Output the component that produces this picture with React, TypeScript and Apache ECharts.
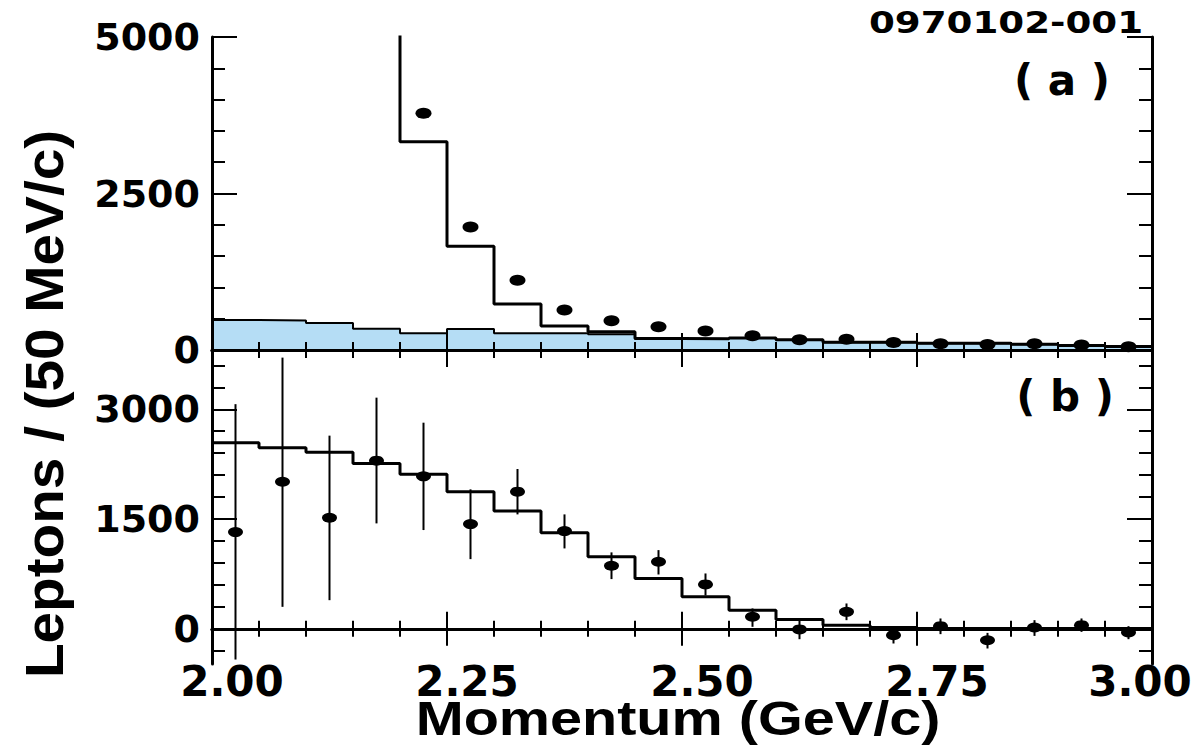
import React, { useEffect, useRef } from "react";
import * as echarts from "echarts";

// ---- data ----
const binEdges = [2.0, 2.05, 2.1, 2.15, 2.2, 2.25, 2.3, 2.35, 2.4, 2.45, 2.5, 2.55, 2.6, 2.65, 2.7, 2.75, 2.8, 2.85, 2.9, 2.95];
const binCenters = [2.025, 2.075, 2.125, 2.175, 2.225, 2.275, 2.325, 2.375, 2.425, 2.475, 2.525, 2.575, 2.625, 2.675, 2.725, 2.775, 2.825, 2.875, 2.925, 2.975];
const histEnd = 3.0;

// (a) continuum (blue) and total expectation (black line)
const continuumA = [479, 470, 431, 340, 266, 335, 266, 266, 250, 176, 176, 190, 160, 122, 122, 106, 106, 90, 69, 53];
const totalA = [9000, 8500, 7500, 6000, 3328, 1656, 735, 385, 290, 185, 180, 192, 162, 125, 124, 108, 108, 92, 71, 55];
// (a) data points (from 2.225 GeV/c)
const dataAX = [2.225, 2.275, 2.325, 2.375, 2.425, 2.475, 2.525, 2.575, 2.625, 2.675, 2.725, 2.775, 2.825, 2.875, 2.925, 2.975];
const dataAY = [3781, 1965, 1113, 639, 466, 373, 305, 226, 165, 173, 120, 100, 88, 100, 78, 53];

// (b) expectation histogram and subtracted data with errors
const histB = [2544, 2475, 2412, 2261, 2111, 1874, 1609, 1313, 985, 689, 438, 256, 128, 51, 19, 6, 5, 5, 5, 5];
const dataBY = [1322, 2010, 1518, 2298, 2084, 1432, 1874, 1336, 862, 917, 607, 165, -8, 233, -86, 37, -155, 19, 51, -49];
const dataBLo = [-419, 301, 392, 1441, 1350, 953, 1564, 1099, 680, 743, 456, 28, -141, 119, -200, -72, -268, -96, -41, -141];
const dataBHi = [3070, 3706, 2640, 3159, 2817, 1906, 2184, 1564, 1045, 1076, 757, 279, 119, 347, 28, 142, -55, 119, 142, 37];

const yTicksA = [0, 2500, 5000];
const yMajorB = [0, 1500, 3000];
const yMinorB = [-300, 0, 300, 600, 900, 1200, 1500, 1800, 2100, 2400, 2700, 3000, 3300, 3600];

const stepData = (vals: number[]) => [
  ...binEdges.map((e, i) => [e, vals[i]]),
  [histEnd, vals[vals.length - 1]],
];

const LABEL_FONT = "DejaVu Sans";
const TITLE_FONT = "Liberation Sans";

export default function App() {
  const ref = useRef<HTMLDivElement>(null);

  useEffect(() => {
    document.body.style.margin = "0";
    if (!ref.current) return;
    const chart = echarts.init(ref.current, undefined, { renderer: "svg" });

    const gridL = 212;
    const gridW = 940;

    const xBase = (gridIndex: number, position: "top" | "bottom", labels: boolean) => ({
      type: "value",
      gridIndex,
      position,
      min: 2,
      max: 3,
      interval: 0.25,
      z: 10,
      axisLine: { show: true, lineStyle: { color: "#000", width: 3 } },
      axisTick: { show: true, inside: true, length: 17, lineStyle: { color: "#000", width: 2 } },
      minorTick: { show: true, splitNumber: 5, length: 8, lineStyle: { color: "#000", width: 2 } },
      splitLine: { show: false },
      minorSplitLine: { show: false },
      axisLabel: labels
        ? {
            show: true,
            margin: 2,
            formatter: (v: number) => (v >= 3 ? `{e|${v.toFixed(2)}}` : `{n|${v.toFixed(2)}}`),
            rich: {
              n: { fontFamily: LABEL_FONT, fontWeight: "bold", fontSize: 42, lineHeight: 30, color: "#000", padding: [0, 0, 0, 40] },
              e: { fontFamily: LABEL_FONT, fontWeight: "bold", fontSize: 42, lineHeight: 30, color: "#000", padding: [0, 24, 0, 0] },
            },
          }
        : { show: false },
    });

    const yLabel = {
      show: true,
      margin: 12,
      fontFamily: LABEL_FONT,
      fontWeight: "bold",
      fontSize: 38,
      color: "#000",
      formatter: (v: number) => String(v),
    };

    const option: any = {
      animation: false,
      backgroundColor: "#fff",
      grid: [
        { left: gridL, top: 37, width: gridW, height: 313, outerBoundsMode: "none", containLabel: false },
        { left: gridL, top: 350, width: gridW, height: 314, outerBoundsMode: "none", containLabel: false },
      ],
      xAxis: [
        xBase(0, "bottom", false),
        xBase(0, "top", false),
        xBase(1, "bottom", true),
        xBase(1, "top", false),
      ],
      yAxis: [
        {
          type: "value", gridIndex: 0, position: "left", min: 0, max: 5000, interval: 2500, z: 10,
          axisLine: { show: true, lineStyle: { color: "#000", width: 3 } },
          axisTick: { show: true, inside: true, length: 25, lineStyle: { color: "#000", width: 2 } },
          minorTick: { show: true, splitNumber: 5, length: 13, lineStyle: { color: "#000", width: 2 } },
          splitLine: { show: false },
          axisLabel: { ...yLabel, customValues: yTicksA },
        },
        {
          type: "value", gridIndex: 0, position: "right", min: 0, max: 5000, interval: 2500, z: 10,
          axisLine: { show: true, lineStyle: { color: "#000", width: 3 } },
          axisTick: { show: true, inside: true, length: 25, lineStyle: { color: "#000", width: 2 } },
          minorTick: { show: true, splitNumber: 5, length: 13, lineStyle: { color: "#000", width: 2 } },
          splitLine: { show: false },
          axisLabel: { show: false },
        },
        {
          type: "value", gridIndex: 1, position: "left", min: -480, max: 3810, z: 10,
          axisLine: { show: true, lineStyle: { color: "#000", width: 3 } },
          axisTick: { show: true, inside: true, length: 25, customValues: yMajorB, lineStyle: { color: "#000", width: 2 } },
          splitLine: { show: false },
          axisLabel: { ...yLabel, customValues: yMajorB },
        },
        {
          type: "value", gridIndex: 1, position: "left", min: -480, max: 3810, z: 10,
          axisLine: { show: false },
          axisTick: { show: true, inside: true, length: 13, customValues: yMinorB, lineStyle: { color: "#000", width: 2 } },
          splitLine: { show: false },
          axisLabel: { show: false },
        },
        {
          type: "value", gridIndex: 1, position: "right", min: -480, max: 3810, z: 10,
          axisLine: { show: true, lineStyle: { color: "#000", width: 3 } },
          axisTick: { show: true, inside: true, length: 25, customValues: yMajorB, lineStyle: { color: "#000", width: 2 } },
          splitLine: { show: false },
          axisLabel: { show: false },
        },
        {
          type: "value", gridIndex: 1, position: "right", min: -480, max: 3810, z: 10,
          axisLine: { show: false },
          axisTick: { show: true, inside: true, length: 13, customValues: yMinorB, lineStyle: { color: "#000", width: 2 } },
          splitLine: { show: false },
          axisLabel: { show: false },
        },
      ],
      series: [
        {
          name: "continuum", type: "line", xAxisIndex: 0, yAxisIndex: 0, step: "end",
          data: stepData(continuumA), symbol: "none", clip: true, z: 2,
          lineStyle: { color: "#000", width: 2 },
          areaStyle: { color: "#b5ddf5", opacity: 1 },
        },
        {
          name: "total", type: "line", xAxisIndex: 0, yAxisIndex: 0, step: "end",
          data: stepData(totalA), symbol: "none", clip: true, z: 3,
          lineStyle: { color: "#000", width: 3 },
        },
        {
          name: "data (a)", type: "scatter", xAxisIndex: 0, yAxisIndex: 0,
          data: dataAX.map((x, i) => [x, dataAY[i]]),
          symbol: "circle", symbolSize: [16, 11], itemStyle: { color: "#000", opacity: 1 }, z: 4,
        },
        {
          name: "expectation (b)", type: "line", xAxisIndex: 2, yAxisIndex: 2, step: "end",
          data: stepData(histB), symbol: "none", clip: true, z: 3,
          lineStyle: { color: "#000", width: 3 },
          markLine: {
            silent: true, symbol: "none", label: { show: false },
            lineStyle: { color: "#222", width: 1.5, type: "solid" },
            data: [{ yAxis: 0 }],
          },
        },
        {
          name: "errors (b)", type: "custom", xAxisIndex: 2, yAxisIndex: 2, z: 4,
          data: binCenters.map((x, i) => [x, dataBLo[i], dataBHi[i]]),
          encode: { x: 0, y: [1, 2] },
          renderItem: (_params: any, api: any) => {
            const x = api.value(0);
            const p1 = api.coord([x, api.value(1)]);
            const p2 = api.coord([x, api.value(2)]);
            return {
              type: "line",
              shape: { x1: p1[0], y1: p1[1], x2: p2[0], y2: p2[1] },
              style: { stroke: "#000", lineWidth: 2 },
            };
          },
        },
        {
          name: "data (b)", type: "scatter", xAxisIndex: 2, yAxisIndex: 2,
          data: binCenters.map((x, i) => [x, dataBY[i]]),
          symbol: "circle", symbolSize: [15, 10], itemStyle: { color: "#000", opacity: 1 }, z: 5,
        },
      ],
      graphic: [
        {
          type: "text", x: 1006, y: 22, scaleX: 1.2, z: 20,
          style: {
            text: "0970102-001", fill: "#000", fontFamily: LABEL_FONT, fontWeight: "bold", fontSize: 31,
            align: "center", verticalAlign: "middle", textAlign: "center", textVerticalAlign: "middle",
          },
        },
        {
          type: "text", x: 1062, y: 80, z: 20,
          style: {
            text: "( a )", fill: "#000", fontFamily: LABEL_FONT, fontWeight: "bold", fontSize: 42,
            align: "center", verticalAlign: "middle", textAlign: "center", textVerticalAlign: "middle",
          },
        },
        {
          type: "text", x: 1065, y: 396, z: 20,
          style: {
            text: "( b )", fill: "#000", fontFamily: LABEL_FONT, fontWeight: "bold", fontSize: 42,
            align: "center", verticalAlign: "middle", textAlign: "center", textVerticalAlign: "middle",
          },
        },
        {
          type: "text", x: 44, y: 404, rotation: Math.PI / 2, scaleX: 1.05, z: 20,
          style: {
            text: "Leptons / (50 MeV/c)", fill: "#000", fontFamily: TITLE_FONT, fontWeight: "bold", fontSize: 54,
            lineHeight: 50,
            align: "center", verticalAlign: "middle", textAlign: "center", textVerticalAlign: "middle",
          },
        },
        {
          type: "text", x: 678, y: 718, scaleX: 1.2, z: 20,
          style: {
            text: "Momentum (GeV/c)", fill: "#000", fontFamily: TITLE_FONT, fontWeight: "bold", fontSize: 48,
            lineHeight: 42,
            align: "center", verticalAlign: "middle", textAlign: "center", textVerticalAlign: "middle",
          },
        },
      ],
    };

    chart.setOption(option);
    return () => chart.dispose();
  }, []);

  return <div ref={ref} style={{ width: 1201, height: 746 }} />;
}
